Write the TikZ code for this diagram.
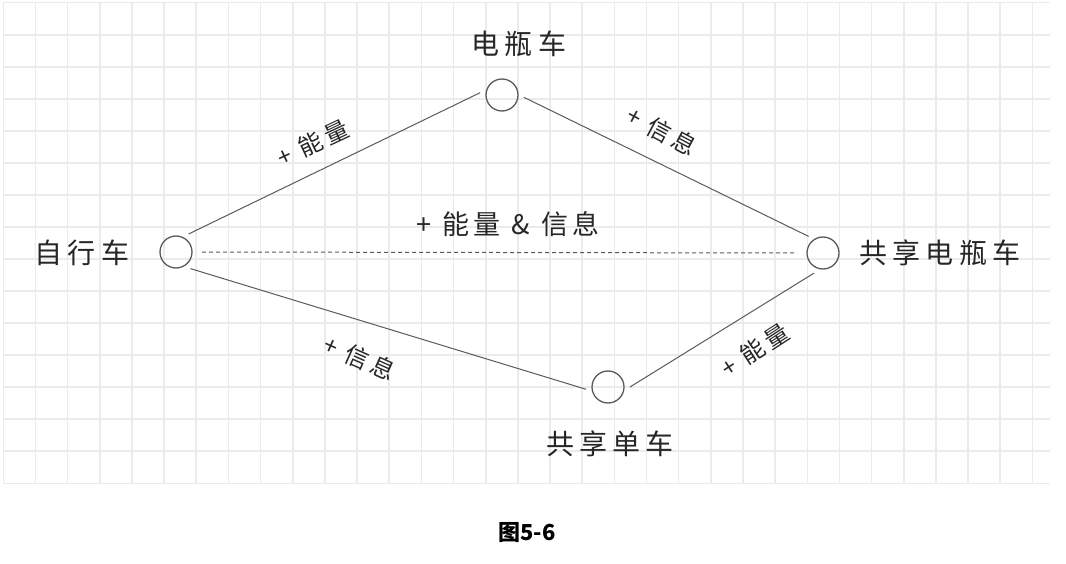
\documentclass[tikz,border=0pt]{standalone}
\usepackage{fontspec}
\setmainfont{Noto Sans CJK SC}
\newfontfamily\hand[LetterSpace=18]{Noto Sans CJK SC}
\newfontfamily\capfont{Noto Sans CJK SC}
\definecolor{linegray}{HTML}{5A5A5A}
\definecolor{inkgray}{HTML}{262626}
\definecolor{gridgray}{HTML}{EBEBEB}
\begin{document}
\begin{tikzpicture}[x=1pt,y=-1pt,
 gridline/.style={draw=gridgray, line width=1.6pt},
 dot/.style={circle, draw=linegray, line width=1.3pt, minimum size=32pt, inner sep=0pt, outer sep=6pt},
 conn/.style={draw=linegray, line width=1pt},
 nm/.style={font=\hand\fontsize{28}{30}\selectfont, text=inkgray, inner sep=0pt},
 elabel/.style={font=\hand\fontsize{24}{26}\selectfont, text=inkgray, inner sep=0pt},
]
\fill[white] (0,0) rectangle (1066,564);
\useasboundingbox (0,0) rectangle (1066,564);
% grid
\foreach \i in {0,...,32} \draw[gridline] ({3.3+\i*32.16},2.7) -- ({3.3+\i*32.16},483.3);
\foreach \j in {0,...,15} \draw[gridline] (3.3,{2.7+\j*32.04}) -- (1050,{2.7+\j*32.04});
% nodes
\node[dot] (L) at (176,252) {};
\node[dot] (T) at (502,95) {};
\node[dot] (R) at (823,253) {};
\node[dot] (B) at (608,387) {};
% names
\node[nm] (nL) at (82,253) {自行车};
\node[nm] (nT) at (519,44) {电瓶车};
\node[nm] (nR) at (940,253) {共享电瓶车};
\node[nm] (nB) at (610,444) {共享单车};
% connectors
\draw[conn] (L.55) -- (T.174);
\draw[conn] (T.-6) -- (R.131);
\draw[conn] (L.-49) -- (B.186);
\draw[conn] (B.0) -- (R.-114);
\draw[conn, dash pattern=on 4pt off 3pt, shorten <=4pt, shorten >=4pt] (L.east) -- (R.west);
% edge labels
\node[elabel, rotate=25] (lUL) at (313,143) {+ 能量};
\node[elabel, rotate=-28] (lUR) at (662,131) {+ 信息};
\node[elabel, rotate=-24] (lLL) at (360,358) {+ 信息};
\node[elabel, rotate=33] (lLR) at (755,350) {+ 能量};
\node[nm, font=\hand\fontsize{27}{29}\selectfont] (lM) at (508,224) {+ 能量 \& 信息};
% caption
\node[font=\capfont\bfseries\fontsize{22}{24}\selectfont, text=black, inner sep=0pt] (cap) at (527,533) {图5-6};
\end{tikzpicture}
\end{document}
